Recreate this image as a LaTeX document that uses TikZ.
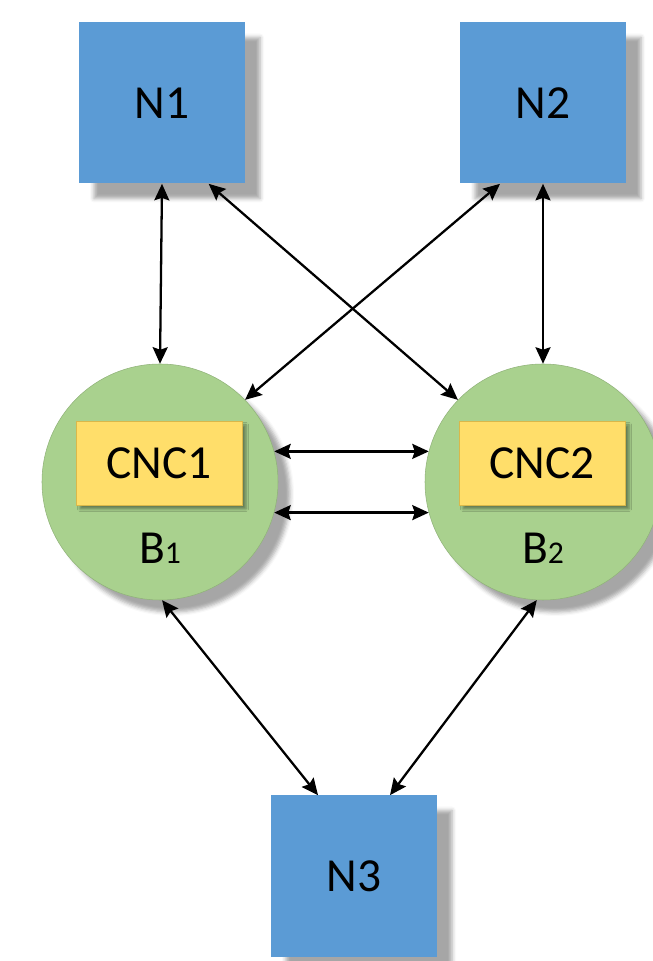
\documentclass[tikz,border=0pt]{standalone}
\usepackage{fontspec}
\setmainfont{Carlito}
\usetikzlibrary{arrows.meta,shadows.blur}

\definecolor{nodeblue}{HTML}{5B9BD5}
\definecolor{bgreen}{HTML}{A9D18E}
\definecolor{cncyellow}{HTML}{FFDE6A}
\definecolor{cncedge}{HTML}{D9B84A}

\newcommand\diagfont{\fontsize{27}{31}\selectfont}
\newcommand\subfont{\fontsize{18}{21}\selectfont}

\tikzset{
  netbox/.style={fill=nodeblue, minimum width=3.32cm, minimum height=3.22cm,
    font=\diagfont, inner sep=0pt,
    blur shadow={shadow xshift=0.3cm, shadow yshift=-0.3cm,
      shadow blur radius=0.08cm, shadow opacity=35}},
  bcircle/.style={circle, fill=bgreen, draw=bgreen!85!black, line width=0.3pt,
    minimum size=4.72cm, inner sep=0pt,
    blur shadow={shadow xshift=0.24cm, shadow yshift=-0.24cm,
      shadow blur radius=0.08cm, shadow opacity=35}},
  cncbox/.style={fill=cncyellow, draw=cncedge, line width=0.4pt,
    minimum width=3.32cm, minimum height=1.68cm, inner sep=0pt, font=\diagfont,
    blur shadow={shadow xshift=0.08cm, shadow yshift=-0.08cm,
      shadow blur radius=0.05cm, shadow opacity=40}},
  link/.style={line width=1.3pt,
    {Stealth[length=3.3mm,width=3mm,inset=0.5mm]}-{Stealth[length=3.3mm,width=3mm,inset=0.5mm]}}
}

\begin{document}
\begin{tikzpicture}

  \useasboundingbox (0,0) rectangle (13.06,19.22);

  % outer nodes
  \node[netbox] (n1) at (3.24,17.16) {N1};
  \node[netbox] (n2) at (10.86,17.16) {N2};
  \node[netbox] (n3) at (7.08,1.70)  {N3};

  % the two B sites with their controllers
  \node[bcircle] (b1) at (3.20,9.58) {};
  \node[bcircle] (b2) at (10.86,9.58) {};

  \node[cncbox] (cnc1) at (3.18,9.96)  {CNC1};
  \node[cncbox] (cnc2) at (10.84,9.96) {CNC2};

  \node[font=\diagfont] (lb1) at (3.20,8.26)  {B{\subfont 1}};
  \node[font=\diagfont] (lb2) at (10.86,8.26) {B{\subfont 2}};

  % links
  \draw[link] (n1.south) -- (b1.north);
  \draw[link] (n2.south) -- (b2.north);
  \draw[link] (n1.-60) -- (b2.136);
  \draw[link] (n2.-118) -- (b1.44);

  \draw[link] (b1.15) -- (b2.165);
  \draw[link] (b1.-15) -- (b2.-165);

  \draw[link] (b1.-89) -- (n3.114);
  \draw[link] (b2.-93) -- (n3.66);

\end{tikzpicture}
\end{document}
